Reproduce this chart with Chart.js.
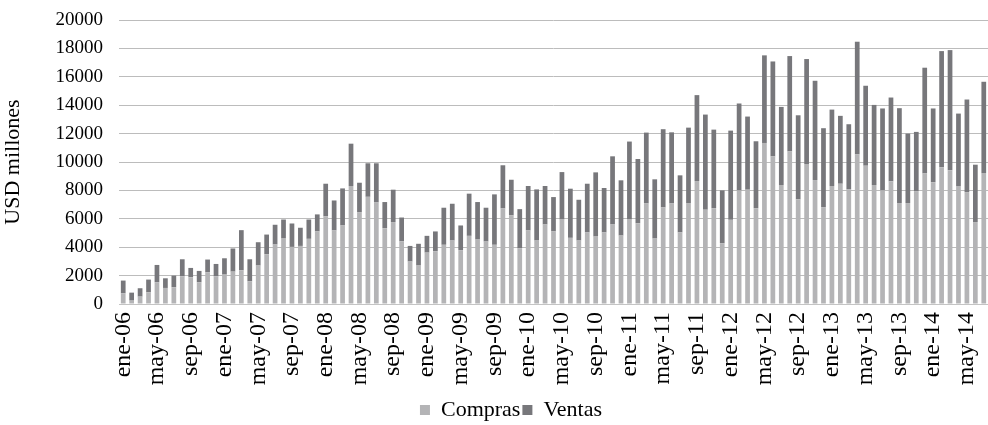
<!DOCTYPE html>
<html>
<head>
<meta charset="utf-8">
<script src="https://cdn.jsdelivr.net/npm/chart.js@4"></script>
<style>
html,body{margin:0;padding:0;background:#fff;overflow:hidden;}
#wrap{width:988px;height:425px;position:relative;}
</style>
</head>
<body>
<div id="wrap"><canvas id="c" width="988" height="425"></canvas></div>
<script>
const monthNames = ["ene","feb","mar","abr","may","jun","jul","ago","sep","oct","nov","dic"];
const years = ["06","07","08","09","10","11","12","13","14"];
const categories = [];
for (const y of years) for (const m of monthNames) categories.push(m + "-" + y);
categories.length = 103; // ene-06 ... jul-14

const compras = [
 750,240,520,820,1530,1130,1180,1950,1880,1530,2240,1950,
 2070,2280,2380,1600,2710,3510,4190,4610,4020,4090,4590,5110,
 6170,5180,5530,8310,6450,7550,7150,5340,5770,4420,2990,2710,
 3620,3720,4170,4470,3790,4800,4540,4400,4170,6730,6240,3930,
 5180,4470,5600,5110,5950,4660,4470,5040,4750,5040,5600,4820,
 5950,5690,7080,4610,6800,7080,5040,7110,8660,6640,6750,4280,
 5930,8000,8050,6750,11340,10400,8380,10750,7370,9860,8730,6820,
 8310,8470,8070,10540,9740,8380,8000,8640,7110,7110,7950,9200,
 8570,9620,9410,8310,7880,5770,9220
];
const ventas = [
 900,560,590,900,1220,680,820,1200,660,800,890,870,
 1150,1630,2820,1550,1640,1380,1390,1340,1650,1280,1360,1200,
 2300,2110,2610,2980,2090,2360,2760,1840,2280,1670,1100,1530,
 1180,1390,2610,2590,1740,2970,2640,2380,3550,3040,2510,2750,
 3130,3600,2710,2420,3340,3460,2870,3430,4520,3130,4800,3890,
 5490,4520,4990,4170,5510,5010,4020,5310,6050,6700,5530,3720,
 6280,6120,5150,4710,6170,6680,5500,6710,5920,7390,6990,5560,
 5380,4780,4590,7930,5630,5640,5770,5900,6680,4890,4170,7440,
 5200,8190,8470,5100,6520,4040,6430
];
const yTicks = [0,2000,4000,6000,8000,10000,12000,14000,16000,18000,20000];

const serif = "'Liberation Serif', 'DejaVu Serif', serif";

const legendShift = {
  id: 'legendShift',
  afterLayout(chart) {
    if (chart.legend) { chart.legend.left += 17; chart.legend.right += 17; }
  }
};

new Chart(document.getElementById('c'), {
  type: 'bar',
  data: {
    labels: categories,
    datasets: [
      { label: 'Compras', data: compras, backgroundColor: '#b4b4b6', borderWidth: 0,
        categoryPercentage: 1.0, barPercentage: 0.56 },
      { label: 'Ventas', data: ventas, backgroundColor: '#77777b', borderWidth: 0,
        categoryPercentage: 1.0, barPercentage: 0.56 }
    ]
  },
  plugins: [legendShift],
  options: {
    responsive: false,
    animation: false,
    devicePixelRatio: 1,
    layout: { padding: { top: 20, right: 0, left: 0, bottom: -6 } },
    plugins: {
      tooltip: { enabled: false },
      legend: {
        position: 'bottom',
        labels: {
          boxWidth: 10, boxHeight: 10, padding: 2,
          color: '#000',
          font: { family: serif, size: 22 }
        }
      }
    },
    scales: {
      x: {
        stacked: true,
        grid: { display: false, drawTicks: false },
        border: { display: true, color: '#c4c4c4', width: 1 },
        ticks: {
          autoSkip: false, maxRotation: 90, minRotation: 90, padding: 8,
          color: '#000',
          font: { family: serif, size: 24 },
          callback: function(v, i) { return i % 4 === 0 ? categories[i] : ''; }
        },
        afterFit: function(s) { s.height = 93; s.paddingLeft = 0; s.paddingRight = 0; }
      },
      y: {
        stacked: true,
        min: 0, max: 20000,
        afterBuildTicks: function(s) { s.ticks = yTicks.map(v => ({ value: v })); },
        grid: { color: '#bcbcbc', lineWidth: 1, drawTicks: false },
        border: { display: false },
        ticks: {
          padding: 16, color: '#000',
          font: { family: serif, size: 19 },
          callback: function(v) { return String(v); }
        },
        title: {
          display: true, text: 'USD millones', color: '#000',
          font: { family: serif, size: 22 },
          padding: { top: 0, bottom: 0 }
        },
        afterFit: function(s) { s.width = 119; s.paddingTop = 0; s.paddingBottom = 0; }
      }
    }
  }
});
</script>
</body>
</html>
